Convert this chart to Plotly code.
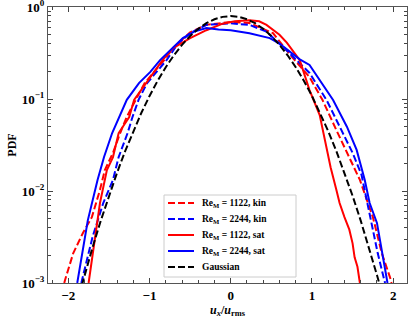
import plotly.graph_objects as go

# ---- data ----
x_kin_1122 = [-2.05, -2.04, -1.94, -1.82, -1.71, -1.61, -1.55, -1.45, -1.36, -1.28, -1.17, -1.06, -0.82,
              -0.71, -0.5, -0.3, 0.0, 0.23, 0.52, 0.75, 0.97, 1.13, 1.3, 1.46, 1.59, 1.75, 1.86, 1.96, 1.98]
p_kin_1122 = [0.001, 0.00108, 0.0021, 0.0035, 0.0052, 0.0103, 0.0169, 0.026, 0.043, 0.064, 0.098, 0.149, 0.265,
              0.36, 0.53, 0.64, 0.687, 0.67, 0.52, 0.29, 0.173, 0.0975, 0.046, 0.0234, 0.0132, 0.0052, 0.0021, 0.00116, 0.001]

x_kin_2244 = [-1.84, -1.8, -1.7, -1.57, -1.45, -1.38, -1.27, -1.21, -1.135, -1.03, -0.79, -0.65, -0.5, -0.3,
              0.0, 0.23, 0.44, 0.7, 0.97, 1.18, 1.34, 1.5, 1.61, 1.73, 1.81, 1.89, 1.9]
p_kin_2244 = [0.001, 0.00138, 0.0032, 0.0074, 0.0132, 0.0234, 0.0427, 0.0637, 0.098, 0.149, 0.265, 0.40, 0.52, 0.64,
              0.665, 0.64, 0.54, 0.33, 0.192, 0.0975, 0.05, 0.026, 0.015, 0.0048, 0.0021, 0.00108, 0.001]

x_sat_1122 = [-1.75, -1.71, -1.67, -1.61, -1.525, -1.45, -1.38, -1.25, -1.19, -1.04, -0.84, -0.71, -0.5, -0.3,
              -0.1, 0.05, 0.23, 0.35, 0.44, 0.6, 0.69, 0.85, 0.97, 1.095, 1.16, 1.23, 1.3, 1.34, 1.4, 1.46, 1.5,
              1.525, 1.56, 1.59]
p_sat_1122 = [0.001, 0.0018, 0.0032, 0.0074, 0.0169, 0.0234, 0.0427, 0.0637, 0.098, 0.149, 0.265, 0.358, 0.46, 0.56,
              0.66, 0.70, 0.72, 0.70, 0.64, 0.50, 0.41, 0.265, 0.125, 0.067, 0.034, 0.018, 0.0103, 0.0074, 0.0052,
              0.0038, 0.0027, 0.0019, 0.0015, 0.001]

x_sat_2244 = [-1.89, -1.76, -1.64, -1.56, -1.46, -1.37, -1.28, -1.13, -0.99, -0.87, -0.72, -0.59, -0.45, -0.3,
              -0.15, 0.0, 0.23, 0.48, 0.6, 0.73, 0.85, 0.97, 1.1, 1.26, 1.43, 1.55, 1.65, 1.71, 1.8, 1.87, 1.93]
p_sat_2244 = [0.001, 0.0048, 0.0132, 0.0234, 0.0427, 0.0637, 0.098, 0.149, 0.197, 0.265, 0.36, 0.46, 0.54, 0.59,
              0.57, 0.56, 0.52, 0.46, 0.4, 0.324, 0.27, 0.235, 0.16, 0.0975, 0.05, 0.028, 0.0132, 0.0074, 0.0045,
              0.0021, 0.001]

x_gauss = [-1.9, -1.8, -1.7, -1.6, -1.5, -1.4, -1.3, -1.2, -1.1, -1.0, -0.9, -0.8, -0.7, -0.6, -0.5, -0.4, -0.3,
           -0.2, -0.1, 0.0, 0.1, 0.2, 0.3, 0.4, 0.5, 0.6, 0.7, 0.8, 0.9, 1.0, 1.1, 1.2, 1.3, 1.4, 1.5, 1.6, 1.7,
           1.8, 1.9]
p_gauss = [0.000584, 0.00122, 0.00246, 0.00477, 0.00887, 0.0158, 0.0272, 0.0448, 0.0709, 0.108, 0.158, 0.222,
           0.299, 0.388, 0.484, 0.579, 0.667, 0.737, 0.782, 0.798, 0.782, 0.737, 0.667, 0.579, 0.484, 0.388,
           0.299, 0.222, 0.158, 0.108, 0.0709, 0.0448, 0.0272, 0.0158, 0.00887, 0.00477, 0.00246, 0.00122, 0.000584]

series_names = ["Re<sub>M</sub> = 1122, kin", "Re<sub>M</sub> = 2244, kin",
                "Re<sub>M</sub> = 1122, sat", "Re<sub>M</sub> = 2244, sat", "Gaussian"]

x_ticks = [-2, -1, 0, 1, 2]
x_ticklabels = ["−2", "−1", "0", "1", "2"]
y_ticks = [1, 0.1, 0.01, 0.001]
y_ticklabels = ["10<sup>0</sup>", "10<sup>−1</sup>", "10<sup>−2</sup>", "10<sup>−3</sup>"]

# ---- figure ----
SERIF = "Liberation Serif, DejaVu Serif, serif"
fig = go.Figure()
styles = [("red", "7px,3px"), ("blue", "7px,3px"), ("red", "solid"), ("blue", "solid"), ("black", "7px,3px")]
datasets = [(x_kin_1122, p_kin_1122), (x_kin_2244, p_kin_2244), (x_sat_1122, p_sat_1122),
            (x_sat_2244, p_sat_2244), (x_gauss, p_gauss)]
for (xs, ps), name, (col, dash) in zip(datasets, series_names, styles):
    fig.add_trace(go.Scatter(x=xs, y=ps, mode="lines", name=name, showlegend=False,
                             line=dict(color=col, width=2, dash=dash)))

# ---- legend box (drawn in paper coordinates) ----
PL, PR, PT, PB = 48, 8, 7, 36
W, H = 415, 319
pw, ph = W - PL - PR, H - PT - PB
def px2x(px):
    return (px - PL) / pw
def py2y(py):
    return (H - PB - py) / ph

shapes = [dict(type="rect", xref="paper", yref="paper",
               x0=px2x(164), x1=px2x(296), y0=py2y(277), y1=py2y(195),
               fillcolor="white", line=dict(color="#cccccc", width=1), layer="above")]
annotations = []
row_y = [203, 219, 235, 251, 267]
for ry, name, (col, dash) in zip(row_y, series_names, styles):
    shapes.append(dict(type="line", xref="paper", yref="paper",
                       x0=px2x(168), x1=px2x(194), y0=py2y(ry), y1=py2y(ry),
                       line=dict(color=col, width=2, dash=dash), layer="above"))
    annotations.append(dict(xref="paper", yref="paper", x=px2x(200), y=py2y(ry),
                            xanchor="left", yanchor="middle", showarrow=False,
                            text="<b>" + name + "</b>",
                            font=dict(family=SERIF, size=9.5, color="black")))

minor_y = [m * 10.0 ** e for e in (-3, -2, -1) for m in range(2, 10)]

fig.update_layout(
    width=W, height=H,
    margin=dict(l=PL, r=PR, t=PT, b=PB, autoexpand=False),
    paper_bgcolor="white", plot_bgcolor="white",
    font=dict(family=SERIF, color="black"),
    showlegend=False,
    shapes=shapes, annotations=annotations,
)
fig.update_xaxes(
    automargin=False, ticklabeloverflow="allow",
    range=[-2.25, 2.17], tickmode="array", tickvals=x_ticks,
    ticktext=["<b>" + t + "</b>" for t in x_ticklabels],
    tickfont=dict(family=SERIF, size=13), ticks="inside", ticklen=5, tickcolor="#444",
    showline=True, linecolor="#555", linewidth=1, mirror="ticks", showgrid=False, zeroline=False,
    minor=dict(dtick=0.2, ticks="inside", ticklen=3, tickcolor="#444", showgrid=False),
    title=dict(text="<b><i>u</i><sub><i>x</i></sub>/<i>u</i><sub>rms</sub></b>",
               font=dict(family=SERIF, size=12), standoff=0),
)
fig.update_yaxes(
    automargin=False, ticklabeloverflow="allow",
    type="log", range=[-3, 0.0005], tickmode="array", tickvals=y_ticks,
    ticktext=["<b>" + t + "</b>" for t in y_ticklabels],
    tickfont=dict(family=SERIF, size=13), ticks="inside", ticklen=5, tickcolor="#444",
    showline=True, linecolor="#555", linewidth=1, mirror="ticks", showgrid=False, zeroline=False,
    minor=dict(tickmode="array", tickvals=minor_y, ticks="inside", ticklen=3, tickcolor="#444", showgrid=False),
    title=dict(text="<b>PDF</b>", font=dict(family=SERIF, size=12), standoff=2),
)

fig.write_html("out.html", config={"displayModeBar": False},
               post_script="document.body.style.margin='0';")
